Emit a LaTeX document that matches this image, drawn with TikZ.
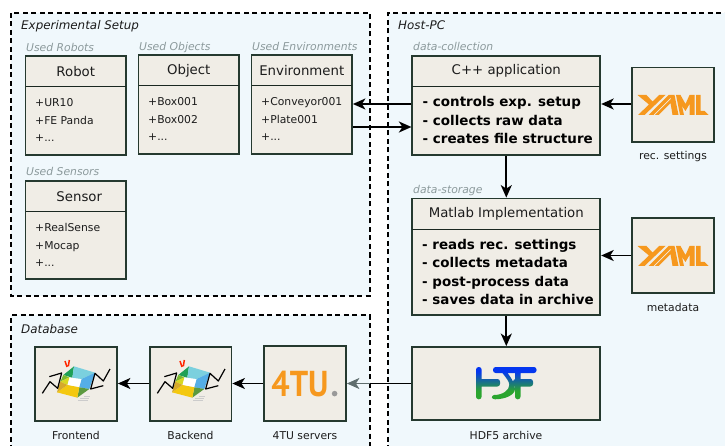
\documentclass[tikz,border=0pt]{standalone}
\usepackage{fontspec}
\setmainfont{DejaVu Sans}
\newfontfamily\logofont{PT Sans}[Scale=1]
\usetikzlibrary{arrows.meta,fit,calc}
\definecolor{framefill}{HTML}{F0F8FC}
\definecolor{boxfill}{HTML}{F0EDE6}
\definecolor{boxline}{HTML}{25392F}
\definecolor{txt}{HTML}{1C1C1C}
\definecolor{hint}{HTML}{8C9A9C}
\definecolor{yamlor}{HTML}{F6981E}
\definecolor{fadearrow}{HTML}{5F6E6E}
\definecolor{hdfblue}{HTML}{0436F0}
\definecolor{hdfgreen}{HTML}{2BA52F}
\pgfdeclareverticalshading{hdfgrad}{100bp}{color(0bp)=(hdfgreen); color(38bp)=(hdfgreen); color(68bp)=(hdfblue); color(100bp)=(hdfblue)}
\newcommand{\bodyfont}{\fontsize{10.8}{17.3}\selectfont}
\newcommand{\boldfont}{\fontsize{13.45}{18.2}\selectfont\bfseries}
\tikzset{
  x=1pt,y=-1pt,
  frameline/.style={draw=black,line width=2pt,dash pattern=on 5pt off 3.5pt},
  framebg/.style={fill=framefill},
  boxnode/.style={draw=boxline,fill=boxfill,line width=1.8pt,inner sep=0pt},
  divider/.style={draw=boxline!70!black,line width=1pt},
  titletext/.style={font=\fontsize{13.3}{16}\selectfont,text=txt,inner sep=0pt},
  bodytext/.style={font=\bodyfont,text=txt,align=left,anchor=west,inner sep=0pt},
  boldtext/.style={font=\boldfont,text=black,align=left,anchor=west,inner sep=0pt},
  hinttext/.style={font=\bodyfont\itshape,text=hint,anchor=base west,inner sep=0pt},
  frametitle/.style={font=\fontsize{11.9}{14}\selectfont\itshape,text=txt,anchor=base west,inner sep=0pt},
  caption/.style={font=\bodyfont,text=txt,anchor=base,inner sep=0pt},
  flow/.style={draw=black,line width=1.8pt,-{Stealth[length=12.5pt,width=11pt,inset=3.5pt]}},
  plainflow/.style={draw=black,line width=1.8pt},
  fadeflow/.style={draw=fadearrow,line width=1.8pt,-{Stealth[length=12.5pt,width=11pt,inset=3.5pt]}},
}
% name, x1, y1, x2, y2
\newcommand{\plainbox}[5]{\node[boxnode,fit={(#2,#3)(#4,#5)}] (#1) {};}
% name, x1, y1, x2, y2, divider y, title
\newcommand{\headbox}[7]{%
  \plainbox{#1}{#2}{#3}{#4}{#5}
  \draw[divider] (#2,#6) -- (#4,#6);
  \path (#2,#3) -- (#4,#3) coordinate[pos=.5] (#1-tc);
  \node[titletext] (#1-title) at ($(#1-tc)+(0,{(#6-#3)/2})$) {#7};
}
% tiny logos, in pixel units of the reference
\newcommand{\yamllogo}[2]{%
  \begin{scope}[shift={(#1,#2)},fill=yamlor]
    \fill (0,0)--(9,0)--(15,6.5)--(21.5,0)--(28,0)--(7,20)--(0.5,20)--(11.5,9.5)--cycle;
    \fill (31,0)--(37,0)--(41,20)--(35,20)--(33,8)--(21,20)--(11,20)--cycle;
    \draw[boxfill,line width=0.7pt] (33,3.5)--(16.5,20);
    \fill (38.5,0)--(43,0)--(48,9)--(52,0)--(57,0)--(57,20)--(52,20)--(52,9)--(48,16)--(44.5,11)--(46.5,20)--(42.5,20)--cycle;
    \fill (58.5,0)--(63,0)--(63,16)--(67,16)--(71,20)--(58.5,20)--cycle;
  \end{scope}}
\newcommand{\cubelogo}[2]{%
  \begin{scope}[shift={(#1,#2)},x=0.3333pt,y=-0.3333pt]
    \fill[black!20] (128,166) rectangle (160,168);
    \fill[black!20] (135,159) rectangle (162,161);
    \fill[black!20] (146,152) rectangle (164,154);
    \fill[white] (103,97)--(140,102)--(133,127)--(97,120)--cycle;
    \fill[HTML1] (117,64)--(85,90)--(112,98)--cycle;
    \fill[HTML2] (117,64)--(180,83)--(140,102)--(112,98)--cycle;
    \fill[HTML3] (180,83)--(163,132)--(133,127)--(140,102)--cycle;
    \fill[HTML4] (163,132)--(127,158)--(133,127)--cycle;
    \fill[HTML5] (66,142)--(127,158)--(133,127)--(97,120)--cycle;
    \fill[HTML6] (85,90)--(76,110)--(103,97)--cycle;
    \fill[HTML7] (76,110)--(103,97)--(97,120)--cycle;
    \fill[HTML8] (66,142)--(76,110)--(97,120)--cycle;
    \draw[black,line width=1.2pt,line join=round] (22,145)--(45,110)--(68,130)--(80,84)--(43,95);
    \draw[black,line width=1.2pt,line join=round] (225,72)--(205,108)--(180,85)--(167,132)--(205,122);
    \draw[red!70!orange,line width=1.5pt] (90,48)--(96,66) (103,45)--(100,64);
  \end{scope}}
\definecolor{HTML1}{HTML}{1FA055}
\definecolor{HTML2}{HTML}{7BD0DE}
\definecolor{HTML3}{HTML}{55AEE6}
\definecolor{HTML4}{HTML}{5C9A3F}
\definecolor{HTML5}{HTML}{F4C80F}
\definecolor{HTML6}{HTML}{7AB92F}
\definecolor{HTML7}{HTML}{D8D820}
\definecolor{HTML8}{HTML}{D6A92A}
\begin{document}
\begin{tikzpicture}
\useasboundingbox (0,0) rectangle (725,446);
\begin{scope}
\clip (0,0) rectangle (725,446);
% frames
\path[framebg] (11,13) rectangle (369.5,296);
\draw[frameline] (11,13) rectangle (369.5,296);
\path[framebg] (11,315) rectangle (369.5,450);
\draw[frameline] (11,450) -- (11,315) -- (369.5,315) -- (369.5,450);
\path[framebg] (388,13) rectangle (730,450);
\draw[frameline] (388,450) -- (388,13) -- (730,13);
\end{scope}
\node[frametitle] (f1) at (21,30) {Experimental Setup};
\node[frametitle] (f2) at (398,30) {Host-PC};
\node[frametitle] (f3) at (21,333) {Database};
% hints
\node[hinttext] (h1) at (26,51.5) {Used Robots};
\node[hinttext] (h2) at (139,50.5) {Used Objects};
\node[hinttext] (h3) at (252,50.5) {Used Environments};
\node[hinttext] (h4) at (26,175.5) {Used Sensors};
\node[hinttext] (h5) at (413,50.5) {data-collection};
\node[hinttext] (h6) at (413,193.5) {data-storage};
% class boxes
\headbox{robot}{25.5}{56}{126}{155}{87}{Robot}
\headbox{object}{138.5}{55}{239}{154}{86}{Object}
\headbox{env}{251.5}{55}{352}{154}{86}{Environment}
\headbox{sensor}{25.5}{181}{126}{279}{211.5}{\hspace{7pt}Sensor}
\node[bodytext] (robot-body) at (35,120) {+UR10\\+FE Panda\\+...};
\node[bodytext] (object-body) at (148,119) {+Box001\\+Box002\\+...};
\node[bodytext] (env-body) at (261,119) {+Conveyor001\\+Plate001\\+...};
\node[bodytext] (sensor-body) at (35,245) {+RealSense\\+Mocap\\+...};
% application boxes
\headbox{cpp}{412.3}{56}{600.3}{155}{86.3}{C++ application}
\node[boldtext] (cpp-body) at (422.5,120) {- controls exp. setup\\- collects raw data\\- creates file structure};
\headbox{matlab}{412.3}{198.5}{600.3}{315}{229.7}{Matlab Implementation}
\node[boldtext] (matlab-body) at (422,272) {- reads rec. settings\\- collects metadata\\- post-process data\\- saves data in archive};
% yaml boxes
\plainbox{yamla}{632.3}{67.5}{713.7}{142}
\plainbox{yamlb}{632.3}{218.3}{713.7}{292.7}
\yamllogo{637.5}{95}
\yamllogo{637.5}{246}
\node[caption] (yamla-cap) at (673,160) {rec. settings};
\node[caption] (yamlb-cap) at (673,311) {metadata};
% hdf
\plainbox{hdf}{412.3}{347}{600.3}{420}
\shade[shading=hdfgrad]
  [rounded corners=2.6pt]
  (476,367) rectangle (481.6,399.3)
  (476,379) rectangle (500,386.5)
  (493,367) rectangle (536.5,373)
  (513,379) rectangle (533,386.5)
  (515,370) rectangle (520.5,399.3)
  [rounded corners=0pt]
  (501.7,372) .. controls (506,378) and (509.3,381) .. (509.3,385) .. controls (509.3,390) and (503,395) .. (494,395)
  .. controls (491,396) and (491,399) .. (495,399.3) .. controls (505,399.3) and (515,395) .. (515,389)
  .. controls (515,383) and (510,376) .. (506.7,372) -- cycle;
\node[caption] (hdf-cap) at (506,439) {HDF5 archive};
% database
\plainbox{front}{35}{346.7}{117}{421.3}
\plainbox{back}{150}{346.7}{231.5}{421.3}
\plainbox{tu}{264}{346}{346}{421.3}
\cubelogo{35}{345}
\cubelogo{150}{345}
\node[inner sep=0pt,anchor=base,font=\logofont\fontsize{36}{36}\selectfont\bfseries,text=yamlor] (tu-logo) at (300,396.7) {\scalebox{0.9}[1]{4TU}};
\fill[black!40] (334.6,393.6) circle (2.8);
\node[caption] (front-cap) at (76,439) {Frontend};
\node[caption] (back-cap) at (190.5,439) {Backend};
\node[caption] (tu-cap) at (305,439) {4TU servers};
% connectors
\coordinate (rowa) at (0,104);
\coordinate (rowb) at (0,127);
\coordinate (rowc) at (369.5,383.5);
\draw[flow] (cpp.west |- rowa) -- (env.east |- rowa);
\draw[flow] (env.east |- rowb) -- (cpp.west |- rowb);
\draw[flow] (yamla.west |- rowa) -- (cpp.east |- rowa);
\draw[flow] (yamlb.west) -- (matlab.east |- yamlb.west);
\draw[flow] (cpp.south) -- (matlab.north);
\draw[flow] (matlab.south) -- (hdf.north);
\draw[plainflow] (hdf.west |- rowc) -- (rowc);
\draw[fadeflow] (rowc) -- (tu.east |- rowc);
\draw[flow] (tu.west |- rowc) -- (back.east |- rowc);
\draw[flow] (back.west |- rowc) -- (front.east |- rowc);
\end{tikzpicture}
\end{document}
